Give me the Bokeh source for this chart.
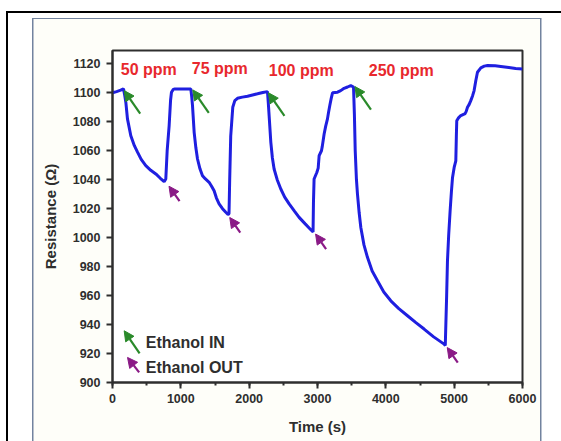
from bokeh.plotting import figure
from bokeh.models import (ColumnDataSource, Arrow, NormalHead, SingleIntervalTicker, Range1d)
from bokeh.core.properties import value
from bokeh.embed import file_html
from bokeh.resources import INLINE

# ---- data ----
time_s = [0, 60, 120, 161, 180, 195, 219, 268, 320, 366, 420, 487, 560, 634, 700, 756,
          780, 800, 829, 850, 863, 890, 912, 1000, 1080, 1146,
          1160, 1171, 1195, 1220, 1244, 1280, 1317, 1360, 1414, 1450, 1487, 1520, 1560,
          1610, 1658, 1690, 1705,
          1715, 1730, 1760, 1790, 1829, 1900, 1976, 2050, 2122, 2200, 2268,
          2280, 2292, 2317, 2340, 2365, 2410, 2463, 2520, 2585, 2660, 2731, 2820, 2902, 2935,
          2941, 2950, 2990, 3010, 3024, 3058, 3070, 3097, 3120, 3146, 3160, 3180, 3200, 3220,
          3293, 3340, 3389, 3440, 3487, 3527,
          3540, 3552, 3570, 3585, 3610, 3634, 3680, 3731, 3800, 3878, 3970, 4073, 4190,
          4317, 4440, 4560, 4700, 4853, 4870,
          4877, 4890, 4902, 4920, 4941, 4960, 4976, 5000, 5024, 5032, 5038, 5060, 5097,
          5130, 5156, 5175, 5195, 5220, 5243, 5270, 5292, 5317, 5341, 5390, 5440, 5488,
          5600, 5683, 5800, 5900, 6000]
resistance = [1100, 1100.8, 1101.8, 1102.7, 1098, 1093.5, 1082, 1070.4, 1063.5, 1059, 1054,
              1049.7, 1046.5, 1044, 1041, 1038.7,
              1040.5, 1060, 1077.4, 1095, 1100.4, 1102.4, 1102.7, 1102.7, 1102.7, 1102.7,
              1097, 1091, 1072.7, 1062, 1054.3, 1047.5, 1042.8, 1040.5, 1038.2, 1035.5,
              1032.4, 1027.5, 1023.3, 1020, 1017.5, 1016, 1016.5,
              1040, 1070, 1090, 1094.6, 1096.2, 1097, 1097.6, 1098.5, 1099.3, 1100.2, 1100.8,
              1093, 1084.3, 1065.8, 1055, 1047.4, 1040, 1033.6, 1028, 1023.3, 1018.5, 1014,
              1009.5, 1005.5, 1004,
              1024.4, 1040.5, 1045, 1048, 1056.6, 1060, 1063, 1071.6, 1077, 1082, 1086,
              1091.2, 1096, 1100, 1100.4, 1101.5, 1103.1, 1104, 1105, 1104,
              1085, 1060, 1040, 1030, 1017, 1007, 995, 986.4, 977, 970.3, 962.5, 956.4, 951,
              946.1, 941.3, 936.9, 931.5, 926.5, 925.5,
              938, 960, 984, 1002, 1018.6, 1032, 1041.6, 1048.5, 1053, 1070, 1080.7, 1082.5,
              1084.3, 1085, 1085.4, 1087, 1090, 1092, 1094.6, 1098, 1101.5, 1108.5, 1114.2,
              1117.2, 1118.4, 1118.8, 1118.6, 1118.2, 1117.5, 1116.8, 1116.5]

conc_labels = ["50 ppm", "75 ppm", "100 ppm", "250 ppm"]
conc_label_x = [121, 1160, 2287, 3751]
conc_label_y = [1116.2, 1116.5, 1115.4, 1115.4]

in_x = [171, 1175, 2282, 3548]          # Ethanol IN arrow tips
in_y = [1101.5, 1102.0, 1100.0, 1104.3]
out_x = [827, 1716, 2972, 4899]         # Ethanol OUT arrow tips
out_y = [1035.5, 1013.9, 1002.5, 924.1]

legend_labels = ["Ethanol IN", "Ethanol OUT"]
x_ticks_interval = 1000
y_ticks_interval = 20

# ---- styling ----
X_PER_PX = 6000 / 410.0
Y_PER_PX = 229.2 / 332.0
GREEN = "#2a8a2a"
PURPLE = "#8a1a86"
BLUE = "#1f1fe0"
RED = "#e8282d"
DARK = "#2e2e2e"
FONT = "Liberation Sans"

p = figure(width=561, height=441, output_backend="svg", toolbar_location=None,
           x_range=Range1d(0, 6000), y_range=Range1d(900, 1129.2),
           min_border_left=112, min_border_right=39, min_border_top=50, min_border_bottom=59)
p.background_fill_color = "white"
p.border_fill_alpha = 0
p.grid.visible = False
p.outline_line_color = DARK
p.outline_line_width = 2
p.outline_line_alpha = 1

# page decorations (outer black frame, inner bluish frame) drawn as CSS background
def g(c):
    return f"linear-gradient({c},{c})"
layers = [
    (g("#000000"), "7px 11px", "560px 2px"),
    (g("#000000"), "6px 11px", "2px 440px"),
    (g("#72839f"), "32px 18px", "509px 1px"),
    (g("#72839f"), "32px 18px", "1.5px 430px"),
    (g("#72839f"), "540px 18px", "1.5px 430px"),
    (g("#fefef9"), "33px 19px", "507px 430px"),
]
p.styles = {
    "background-color": "white",
    "background-image": ", ".join(l[0] for l in layers),
    "background-position": ", ".join(l[1] for l in layers),
    "background-size": ", ".join(l[2] for l in layers),
    "background-repeat": "no-repeat",
}

p.line(time_s, resistance, line_color=BLUE, line_width=3)

# concentration labels
p.text(x=conc_label_x, y=conc_label_y, text=conc_labels, text_color=RED,
       text_font=value(FONT), text_font_style="bold", text_font_size="16px",
       text_baseline="middle", text_align="left")

# event arrows
def arrows(xs, ys, dx_px, dy_px, color, head):
    src = ColumnDataSource(dict(
        xe=xs, ye=ys,
        xs=[x + dx_px * X_PER_PX for x in xs],
        ys=[y - dy_px * Y_PER_PX for y in ys]))
    p.add_layout(Arrow(source=src, x_start="xs", y_start="ys", x_end="xe", y_end="ye",
                       line_color=color, line_width=2.2,
                       end=NormalHead(size=10, fill_color=color, line_color=color)))

arrows(in_x, in_y, 16, 23, GREEN, 10)
arrows(out_x, out_y, 10.5, 15, PURPLE, 10)

# legend (hand-made)
arrows([171], [935.7], 15.4, 22.7, GREEN, 10)
arrows([220], [917.3], 11.6, 15, PURPLE, 10)
p.text(x=[487, 487], y=[927.4, 910.2], text=legend_labels, text_color=DARK,
       text_font=value(FONT), text_font_style="bold", text_font_size="16px",
       text_baseline="middle", text_align="left")

# axes
p.xaxis.ticker = SingleIntervalTicker(interval=x_ticks_interval, num_minor_ticks=2)
p.yaxis.ticker = SingleIntervalTicker(interval=y_ticks_interval, num_minor_ticks=0)
for ax in (p.xaxis, p.yaxis):
    ax.axis_line_color = DARK
    ax.axis_line_width = 2
    ax.major_tick_line_color = DARK
    ax.major_tick_line_width = 2
    ax.major_tick_out = 6
    ax.major_tick_in = 0
    ax.major_label_text_font = FONT
    ax.major_label_text_font_style = "bold"
    ax.major_label_text_font_size = "12.5px"
    ax.major_label_text_color = DARK
    ax.axis_label_text_font = FONT
    ax.axis_label_text_font_style = "bold"
    ax.axis_label_text_font_size = "15px"
    ax.axis_label_text_color = DARK
p.xaxis.minor_tick_line_color = DARK
p.xaxis.minor_tick_line_width = 2
p.xaxis.minor_tick_out = 3
p.xaxis.minor_tick_in = 0
p.yaxis.minor_tick_line_color = None
p.xaxis.major_label_standoff = 5
p.yaxis.major_label_standoff = 6
p.xaxis.axis_label = "Time (s)"
p.yaxis.axis_label = "Resistance (\u03a9)"
p.xaxis.axis_label_standoff = 12
p.yaxis.axis_label_standoff = 11

open("out.html", "w").write(file_html(p, INLINE))
